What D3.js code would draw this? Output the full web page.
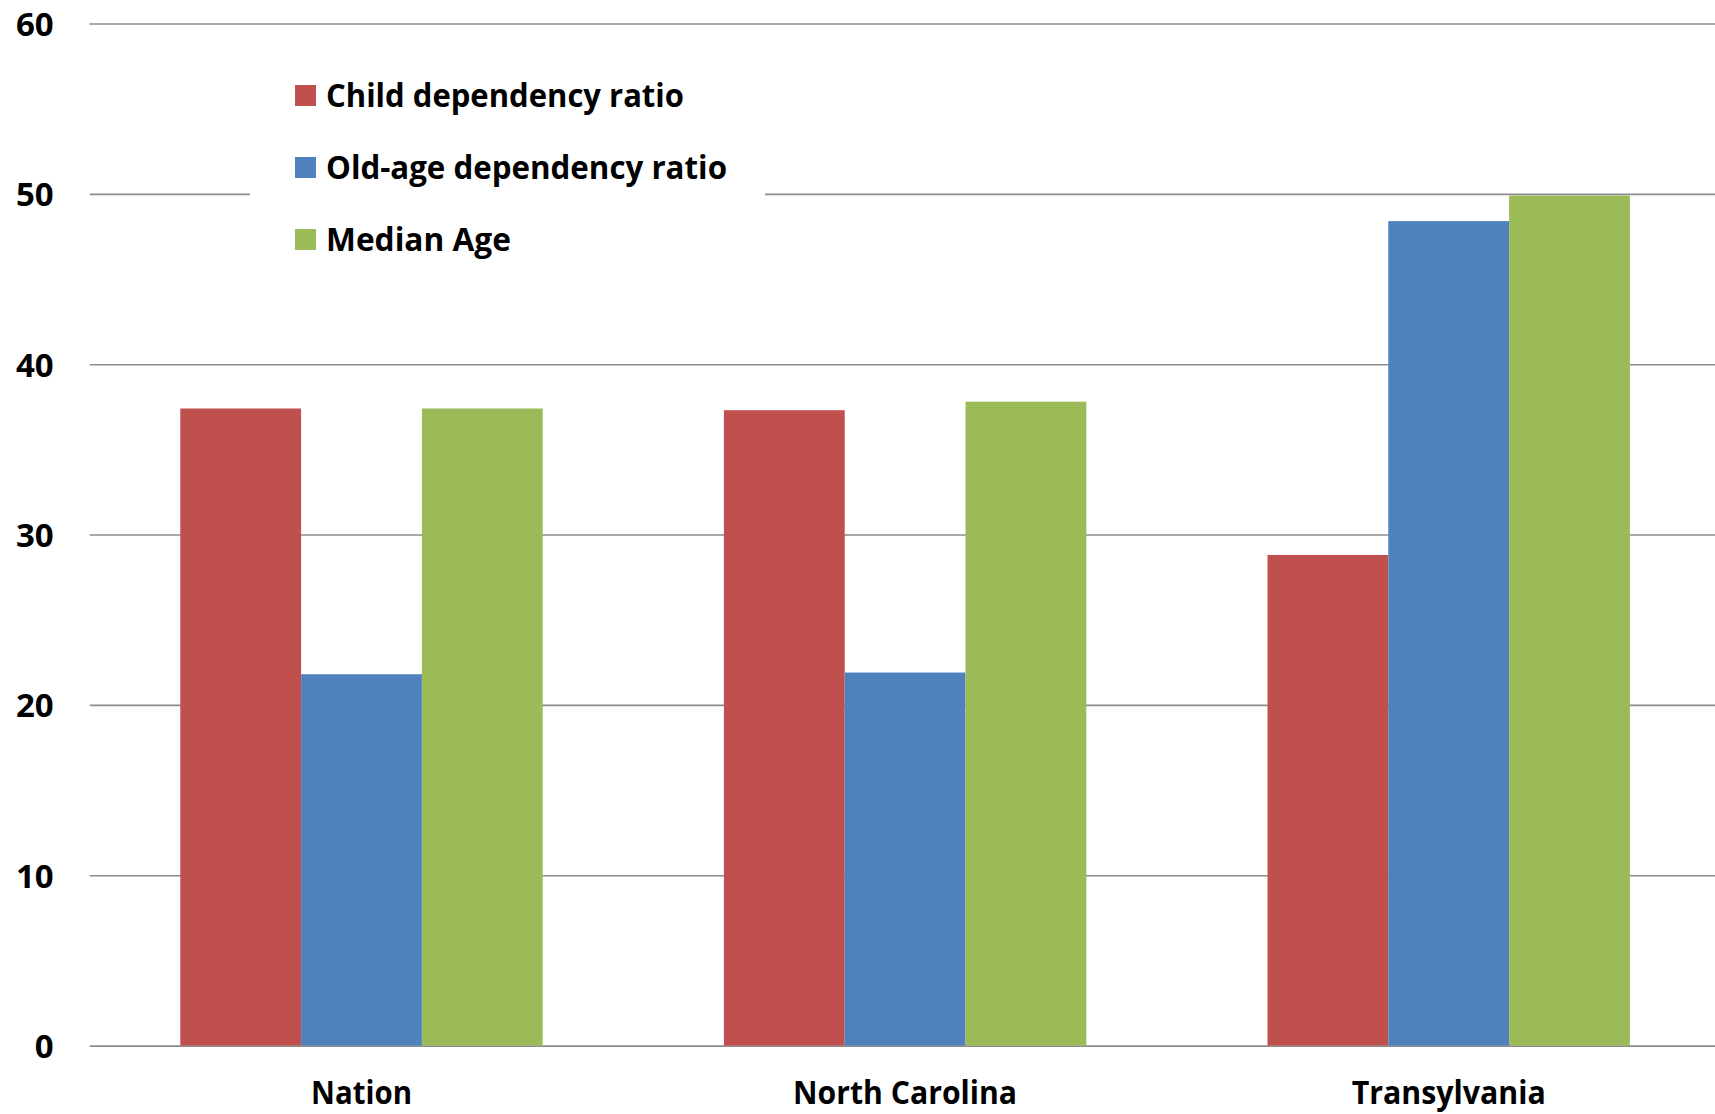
<!DOCTYPE html>
<html>
<head>
<meta charset="utf-8">
<script src="https://cdn.jsdelivr.net/npm/d3@7/dist/d3.min.js"></script>
<style>
  html, body { margin: 0; padding: 0; background: #fff; }
  svg { display: block; }
  text { font-family: "Open Sans", "DejaVu Sans", sans-serif; font-weight: 700; fill: #000; }
</style>
</head>
<body>
<svg id="chart" width="1715" height="1114"></svg>
<script>
// ---- Data ----
const categories = ["Nation", "North Carolina", "Transylvania"];
const seriesNames = ["Child dependency ratio", "Old-age dependency ratio", "Median Age"];
const childDependency = [37.4, 37.3, 28.8];
const oldAgeDependency = [21.8, 21.9, 48.4];
const medianAge = [37.4, 37.8, 49.9];
const yTicks = [0, 10, 20, 30, 40, 50, 60];
const seriesColors = ["#C0504D", "#4F81BD", "#9BBB59"];

const seriesValues = [childDependency, oldAgeDependency, medianAge];

// ---- Layout ----
const svg = d3.select("#chart");
const plotLeft = 89.7, plotRight = 1720.5, plotTop = 23.5, plotBottom = 1045.6;
const fontSize = 33;

const x = d3.scaleBand().domain(categories).range([plotLeft, plotRight]).paddingInner(0).paddingOuter(0);
const bw = x.bandwidth();
const xs = d3.scaleBand().domain(seriesNames).range([bw / 6, bw * 5 / 6]).padding(0);
const y = d3.scaleLinear().domain([0, 60]).range([plotBottom, plotTop]);

// Y axis + gridlines
const yAxis = d3.axisLeft(y)
  .tickValues(yTicks)
  .tickFormat(d3.format("d"))
  .tickSize(-(1715 - plotLeft))
  .tickPadding(36);

const gy = svg.append("g").attr("transform", `translate(${plotLeft},0)`).call(yAxis);
gy.select(".domain").remove();
gy.selectAll(".tick line").attr("stroke", "#8c8c8c").attr("stroke-width", 1.6);
gy.selectAll(".tick text")
  .attr("font-size", fontSize)
  .attr("font-family", "'Open Sans', sans-serif")
  .attr("font-weight", 700)
  .attr("fill", "#000")
  .attr("dy", "0.36em");

// Bars
const data = [];
categories.forEach((c, i) => {
  seriesNames.forEach((s, j) => {
    data.push({ cat: c, series: s, value: seriesValues[j][i], color: seriesColors[j] });
  });
});

svg.append("g").selectAll("rect")
  .data(data)
  .join("rect")
  .attr("x", d => x(d.cat) + xs(d.series))
  .attr("y", d => y(d.value))
  .attr("width", xs.bandwidth())
  .attr("height", d => y(0) - y(d.value))
  .attr("fill", d => d.color);

// Category labels
const catWidths = { "Nation": 101, "North Carolina": 224, "Transylvania": 194 };
svg.append("g").selectAll("text")
  .data(categories)
  .join("text")
  .attr("x", d => x(d) + bw / 2)
  .attr("y", 1104)
  .attr("text-anchor", "middle")
  .attr("font-size", fontSize)
  .attr("textLength", d => catWidths[d])
  .attr("lengthAdjust", "spacingAndGlyphs")
  .text(d => d);

// Legend
const legend = svg.append("g");
legend.append("rect")
  .attr("x", 250).attr("y", 55).attr("width", 515).attr("height", 215)
  .attr("fill", "#fff");
const legWidths = [358, 401, 185];
const legItems = legend.selectAll("g.item")
  .data(seriesNames)
  .join("g")
  .attr("class", "item")
  .attr("transform", (d, i) => `translate(295,${85 + i * 72})`);
legItems.append("rect")
  .attr("width", 21).attr("height", 21)
  .attr("fill", (d, i) => seriesColors[i]);
legItems.append("text")
  .attr("x", 31)
  .attr("y", 22)
  .attr("font-size", fontSize)
  .attr("textLength", (d, i) => legWidths[i])
  .attr("lengthAdjust", "spacingAndGlyphs")
  .text(d => d);
</script>
</body>
</html>
